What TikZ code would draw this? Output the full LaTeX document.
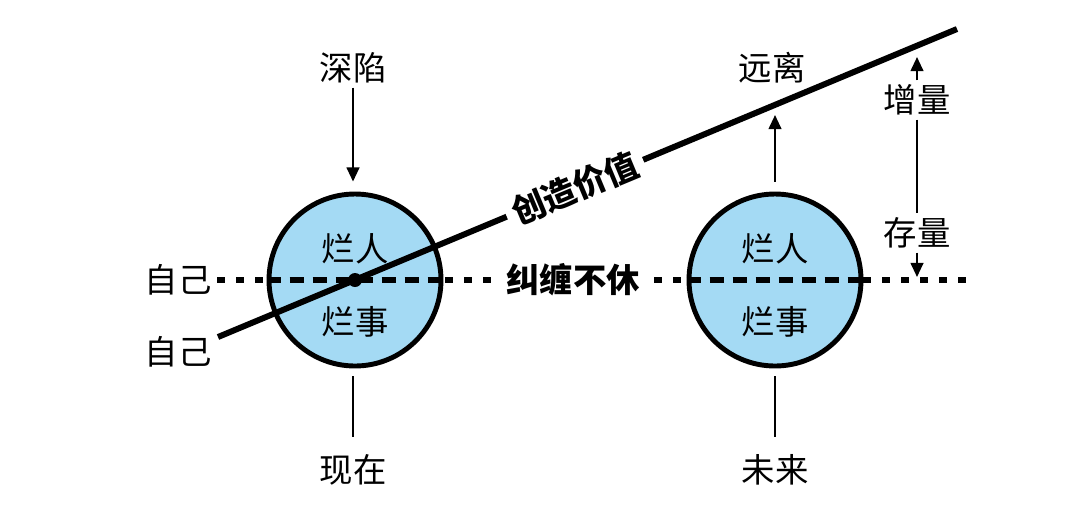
\documentclass[tikz,border=0pt]{standalone}
\usepackage{fontspec}
\newfontfamily\cjk{Noto Sans CJK SC}
\usetikzlibrary{arrows.meta}

\definecolor{bleuclair}{RGB}{164,218,244}

\tikzset{
    etiquette/.style={font=\cjk\fontsize{9.5pt}{10pt}\selectfont, inner sep=1pt},
    gras/.style={font=\cjk\bfseries\fontsize{9.5pt}{10pt}\selectfont, fill=white, inner sep=2pt},
    bulle/.style={circle, draw, line width=1.4pt, fill=bleuclair, minimum size=1.72cm, inner sep=0pt},
    pointille/.style={line width=1.6pt, dash pattern=on 0.08cm off 0.11cm},
    tiret/.style={line width=1.6pt, dash pattern=on 0.14cm off 0.09cm},
    fleche/.style={line width=0.6pt, -{Triangle[length=4pt,width=3.6pt]}},
    trait/.style={line width=0.6pt}
}

\begin{document}
\begin{tikzpicture}

    \useasboundingbox (0,0) rectangle (10.8,5.04);

    % Ligne pointillée : soi-même qui tourne en rond
    \coordinate (ga) at (2.17,2.24);
    \coordinate (dr) at (9.75,2.24);
    \draw[pointille] (ga) -- (dr);

    % Les deux cercles (présent et futur)
    \node[bulle] (present) at (3.55,2.24) {};
    \node[bulle] (futur) at (7.75,2.24) {};
    \draw[tiret] (present.west) -- (present.east);
    \draw[tiret] (futur.west) -- (futur.east);

    \node[etiquette] (pres-h) at ([yshift=0.31cm]present.center) {烂人};
    \node[etiquette] (pres-b) at ([yshift=-0.42cm]present.center) {烂事};
    \node[etiquette] (fut-h) at ([yshift=0.31cm]futur.center) {烂人};
    \node[etiquette] (fut-b) at ([yshift=-0.42cm]futur.center) {烂事};

    % Droite montante : créer de la valeur
    \coordinate (va) at (2.18,1.67);
    \coordinate (vb) at (9.57,4.75);
    \draw[line width=1.7pt] (va) -- (vb) node[gras, pos=0.483, sloped] {创造价值};
    \node[circle, fill, minimum size=0.14cm, inner sep=0pt] (centre) at (present.center) {};

    \node[gras] (lien) at (5.73,2.24) {纠缠不休};

    % Étiquettes à gauche
    \node[etiquette] (soi1) at (1.78,2.24) {自己};
    \node[etiquette] (soi2) at (1.78,1.52) {自己};

    % Flèche « s'enfoncer »
    \node[etiquette] (deep) at (3.53,4.36) {深陷};
    \draw[fleche] (deep.south) -- ([yshift=0.1cm]deep.south |- present.north);

    % Flèche « s'éloigner »
    \node[etiquette] (loin) at (7.72,4.36) {远离};
    \coordinate (haut) at (7.75,3.89);
    \draw[fleche] ([yshift=0.1cm]futur.north) -- (haut);

    % Stock et incrément
    \node[etiquette] (incr) at (9.17,4.04) {增量};
    \node[etiquette] (stock) at (9.17,2.71) {存量};
    \coordinate (incr-pt) at (9.17,4.47);
    \coordinate (stock-pt) at (9.17,2.27);
    \draw[fleche] (incr) -- (incr-pt);
    \draw[trait] (incr) -- (stock);
    \draw[fleche] (stock) -- (stock-pt);

    % Présent et futur
    \node[etiquette] (now) at (3.53,0.34) {现在};
    \node[etiquette] (later) at (7.75,0.34) {未来};
    \draw[trait] ([yshift=-0.08cm]now.north |- present.south) -- ([yshift=0.13cm]now.north);
    \draw[trait] ([yshift=-0.08cm]futur.south) -- ([yshift=0.13cm]later.north);

\end{tikzpicture}
\end{document}
